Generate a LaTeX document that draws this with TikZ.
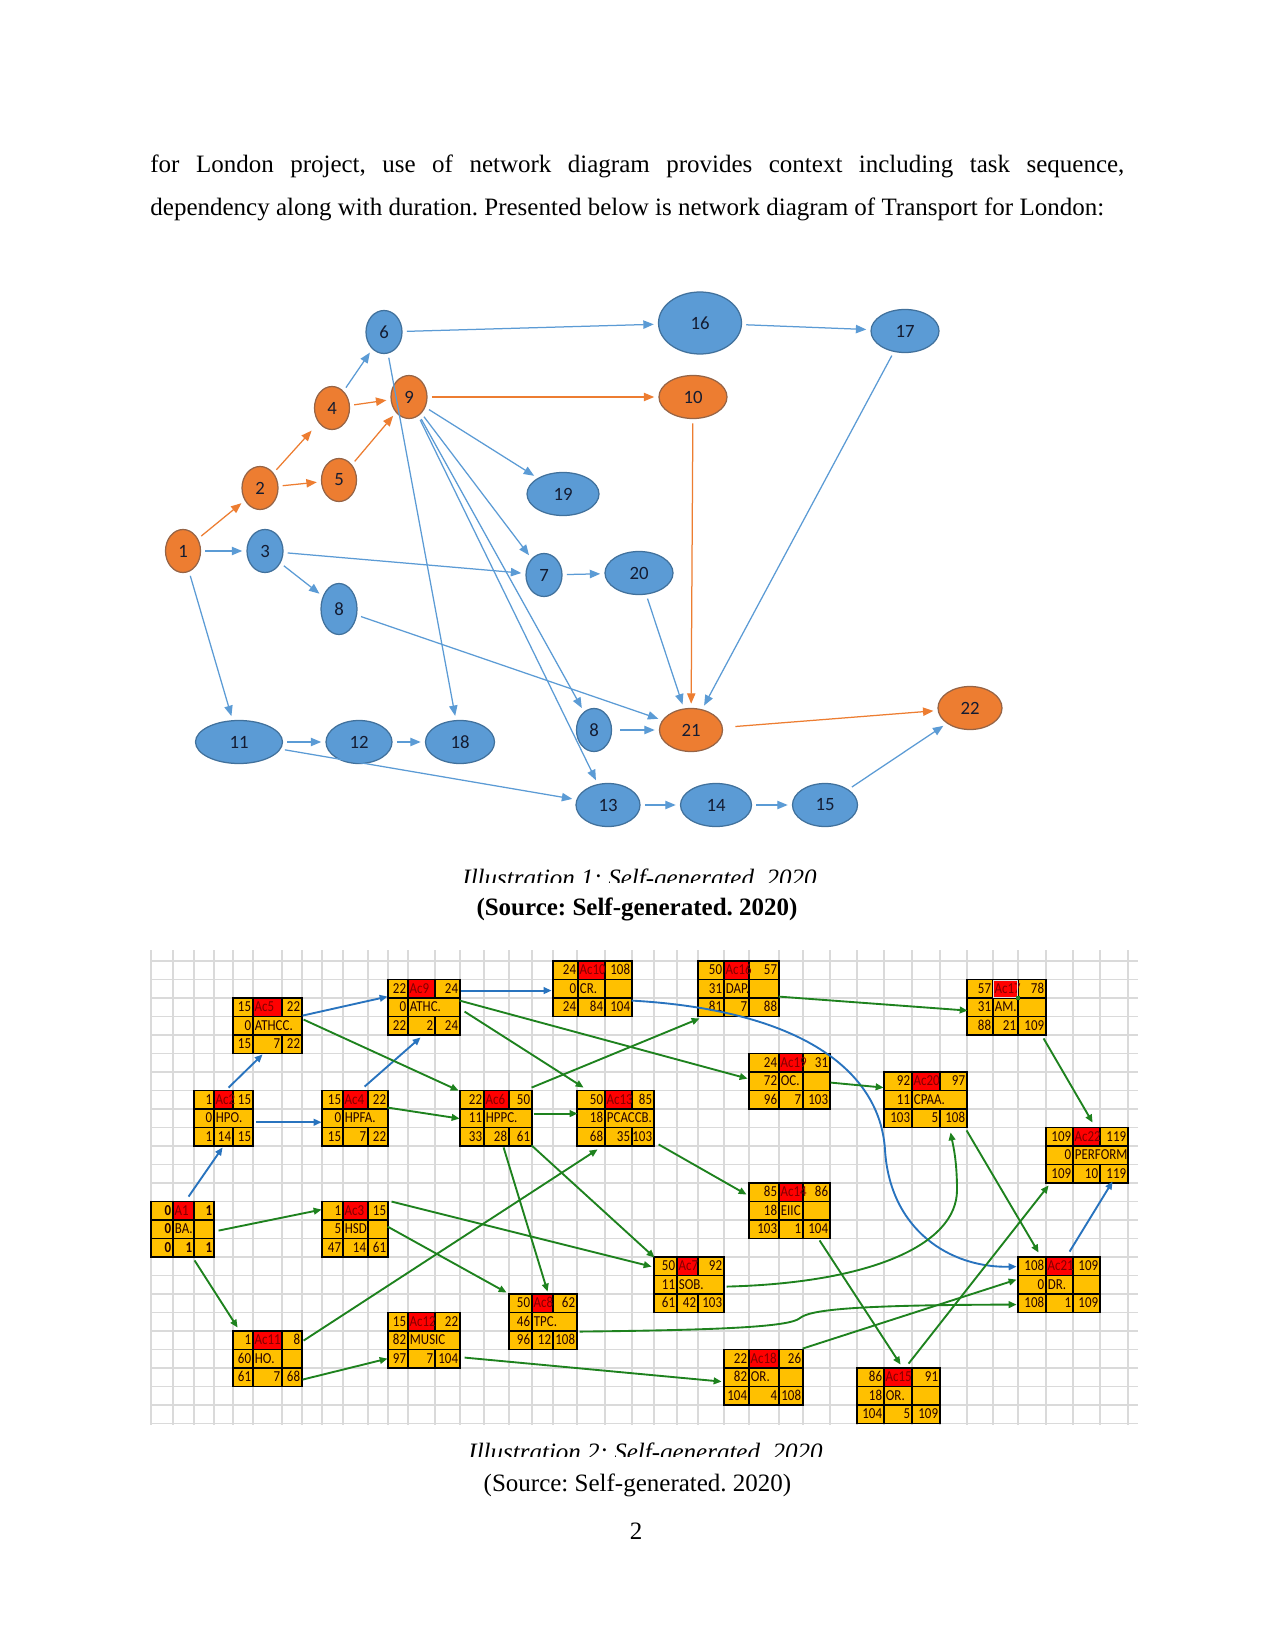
\documentclass[tikz,border=0pt]{standalone}
\usepackage{fontspec}
\setmainfont{Liberation Serif}
\newfontfamily\calib{Carlito}
\newfontfamily\boxfont{Carlito}[FakeStretch=0.85]
\usetikzlibrary{shapes.geometric,arrows.meta,calc}
\frenchspacing
\definecolor{nblue}{RGB}{91,155,213}
\definecolor{nblueb}{RGB}{65,113,156}
\definecolor{norange}{RGB}{237,125,49}
\definecolor{norangeb}{RGB}{150,100,70}
\definecolor{ntext}{RGB}{20,28,50}
\definecolor{byel}{RGB}{255,192,0}
\definecolor{bred}{RGB}{255,0,0}
\definecolor{bredtxt}{RGB}{130,0,0}
\definecolor{agreen}{RGB}{30,130,30}
\definecolor{ablue}{RGB}{40,115,190}
\definecolor{gridc}{RGB}{218,218,218}
\def\pxl{0.48pt}
\tikzset{
  bn/.style={ellipse, fill=nblue, draw=nblueb, line width=0.6pt, inner sep=0pt,
    font=\calib\fontsize{9}{10}\selectfont, text=ntext},
  on/.style={bn, fill=norange, draw=norangeb},
  ba/.style={draw=nblue, line width=0.6pt, -{Triangle[length=5pt,width=4pt]},
    shorten >=2pt, shorten <=2pt},
  oa/.style={ba, draw=norange},
  bt/.style={inner sep=0pt, font=\boxfont\fontsize{7.3}{8}\selectfont, text=black!85!red},
  boxln/.style={draw=black, line width=0.8pt},
  ga/.style={draw=agreen, line width=0.9pt, -{Triangle[length=3.8pt,width=3.2pt]}},
  bla/.style={ga, draw=ablue},
  gridln/.style={draw=gridc, line width=0.6pt},
}
\newcommand\geo[5]{\def\xa{#1}\def\xb{#2}\def\xc{#3}\def\xd{#4}\def\yt{#5}}
\newcommand\actbox[9]{%
  \pgfmathsetmacro\ym{\yt+18.5}%
  \pgfmathsetmacro\yn{\yt+37}%
  \pgfmathsetmacro\yb{\yt+55.5}%
  \fill[byel] (\xa,\yt) rectangle (\xd,\yb);
  \fill[bred] (\xb,\yt) rectangle (\xc,\ym);
  \draw[boxln] (\xa,\yt) rectangle (\xd,\yb) (\xa,\ym) -- (\xd,\ym) (\xa,\yn) -- (\xd,\yn)
    (\xb,\yt) -- (\xb,\yb) (\xc,\yt) -- (\xc,\ym) (\xc,\yn) -- (\xc,\yb);
  \if#6s\draw[boxln] (\xc,\ym) -- (\xc,\yn);\fi
  \node[bt, anchor=base east] at ({\xb-1.5},{\yt+13.5}) {#1};
  \node[bt, text=bredtxt, anchor=base west] at ({\xb+1.2},{\yt+13.5}) {#2};
  \node[bt, anchor=base east] at ({\xd-1.5},{\yt+13.5}) {#3};
  \node[bt, anchor=base east] at ({\xb-1.5},{\yt+32}) {#4};
  \node[bt, anchor=base west] at ({\xb+1.5},{\yt+32}) {#5};
  \node[bt, anchor=base east] at ({\xb-1.5},{\yt+50.5}) {#7};
  \node[bt, anchor=base east] at ({\xc-1.5},{\yt+50.5}) {#8};
  \node[bt, anchor=base east] at ({\xd-1.5},{\yt+50.5}) {#9};
  \pgfmathsetmacro\bw{(\xd-\xa)*0.48}%
  \node[inner sep=0pt, minimum width=\bw pt, minimum height=26.64pt] (#2) at ({(\xa+\xd)/2},{\yt+27.75}) {};
}
\begin{document}
\begin{tikzpicture}[x=0.48pt, y=-0.48pt]
\fill[white] (0,0) rectangle (1275,1650);
\useasboundingbox (0,0) rectangle (1275,1650);

% ---------- body text ----------
\node[anchor=base west, inner sep=0pt, font=\fontsize{12}{14}\selectfont] (l1) at (150,173)
  {\makebox[467.5pt][s]{for London project, use of network diagram provides context including task sequence,}};
\node[anchor=base west, inner sep=0pt, font=\fontsize{12}{14}\selectfont] (l2) at (150,216)
  {dependency along with duration. Presented below is network diagram of Transport for London:};

% ---------- network diagram 1 ----------
\node[on, minimum width=35*\pxl, minimum height=43*\pxl] (n1) at (183,551) {1};
\node[on, minimum width=36*\pxl, minimum height=43*\pxl] (n2) at (260,488) {2};
\node[bn, minimum width=36*\pxl, minimum height=43*\pxl] (n3) at (265,551) {3};
\node[on, minimum width=35*\pxl, minimum height=43*\pxl] (n4) at (332,408) {4};
\node[on, minimum width=35*\pxl, minimum height=43*\pxl] (n5) at (339,480) {5};
\node[bn, minimum width=36*\pxl, minimum height=43*\pxl] (n6) at (384,332) {6};
\node[on, minimum width=36*\pxl, minimum height=43*\pxl] (n9) at (409,397) {9};
\node[on, minimum width=68*\pxl, minimum height=43*\pxl] (n10) at (693,397) {10};
\node[bn, minimum width=83*\pxl, minimum height=62*\pxl] (n16) at (700,323) {16};
\node[bn, minimum width=68*\pxl, minimum height=43*\pxl] (n17) at (905,331) {17};
\node[bn, minimum width=72*\pxl, minimum height=43*\pxl] (n19) at (563,494) {19};
\node[bn, minimum width=36*\pxl, minimum height=43*\pxl] (n7) at (544,575) {7};
\node[bn, minimum width=68*\pxl, minimum height=43*\pxl] (n20) at (639,573) {20};
\node[bn, minimum width=36*\pxl, minimum height=51*\pxl] (n8a) at (339,609) {8};
\node[bn, minimum width=35*\pxl, minimum height=43*\pxl] (n8b) at (594,730) {8};
\node[on, minimum width=63*\pxl, minimum height=43*\pxl] (n21) at (691,730) {21};
\node[on, minimum width=64*\pxl, minimum height=43*\pxl] (n22) at (970,708) {22};
\node[bn, minimum width=87*\pxl, minimum height=43*\pxl] (n11) at (239,742) {11};
\node[bn, minimum width=66*\pxl, minimum height=43*\pxl] (n12) at (359,742) {12};
\node[bn, minimum width=69*\pxl, minimum height=43*\pxl] (n18) at (460,742) {18};
\node[bn, minimum width=64*\pxl, minimum height=43*\pxl] (n13) at (608,805) {13};
\node[bn, minimum width=71*\pxl, minimum height=43*\pxl] (n14) at (716,805) {14};
\node[bn, minimum width=65*\pxl, minimum height=43*\pxl] (n15) at (825,805) {15};

\draw[oa] (n1) -- (n2);
\draw[oa, shorten >=5pt] (n2) -- (n4);
\draw[oa] (n2) -- (n5);
\draw[oa] (n4) -- (n9);
\draw[oa] (n5) -- (n9);
\draw[oa] (n9) -- (n10);
\draw[oa] (n10) -- (n21);
\draw[oa, shorten <=6pt] (n21) -- (n22);
\draw[ba] (n1) -- (n3);
\draw[ba] (n1) -- (n11);
\draw[ba] (n4) -- (n6);
\draw[ba] (n6) -- (n16);
\draw[ba] (n6) -- (n18);
\draw[ba] (n16) -- (n17);
\draw[ba] (n9) -- (n19);
\draw[ba] (n9) -- (n7);
\draw[ba] (n9) -- (n8b);
\draw[ba] (n9) -- (n13);
\draw[ba] (n3) -- (n7);
\draw[ba] (n3) -- (n8a);
\draw[ba] (n7) -- (n20);
\draw[ba] (n8a) -- (n21);
\draw[ba, shorten <=4pt] (n8b) -- (n21);
\draw[ba] (n20) -- (n21);
\draw[ba] (n17) -- (n21);
\draw[ba] (n11) -- (n12);
\draw[ba] (n12) -- (n18);
\draw[ba] (n11) -- (n13);
\draw[ba] (n13) -- (n14);
\draw[ba] (n14) -- (n15);
\draw[ba] (n15) -- (n22);

% ---------- captions 1 ----------
\begin{scope}
\clip (0,850) rectangle (1275,882);
\node[anchor=base west, inner sep=0pt, font=\fontsize{12}{14}\selectfont\itshape] (cap1) at (462,886.5) {Illustration 1: Self-generated. 2020};
\end{scope}
\node[anchor=base, inner sep=0pt, font=\fontsize{12}{14}\selectfont\bfseries] (src1) at (637,915) {(Source: Self-generated. 2020)};

% ---------- grid ----------
\foreach \x in {151,173,194,214,233,253,282,302,322,343,368,388,408,435,460,484,509,532,553,577,605,632,654,677,698,724,749,779,803,830,857,884,912,940,967,993,1018,1046,1073,1100,1128}
  \draw[gridln] (\x,950) -- (\x,1425);
\foreach \k in {0,...,25}
  \draw[gridln] (151,{961+18.5*\k}) -- (1138,{961+18.5*\k});

% ---------- activity boxes ----------
\geo{553}{578}{605}{632}{961}\actbox{24}{Ac10}{108}{0}{CR.}{s}{24}{84}{104}
\geo{698}{724}{749}{779}{961}\actbox{50}{Ac16}{57}{31}{DAP.}{s}{81}{7}{88}
\geo{388}{408}{435}{460}{979.5}\actbox{22}{Ac9}{24}{0}{ATHC.}{m}{22}{2}{24}
\geo{967}{993}{1018}{1046}{979.5}\actbox{57}{Ac17}{78}{31}{AM.}{s}{88}{21}{109}
\draw[white!75!gray, line width=0.8pt] (993.5,980.5) rectangle (1017.5,997.5);
\fill[agreen] (1016,995.5) rectangle (1020,999.5);
\geo{233}{253}{282}{302}{998}\actbox{15}{Ac5}{22}{0}{ATHCC.}{m}{15}{7}{22}
\geo{749}{779}{803}{830}{1053.5}\actbox{24}{Ac19}{31}{72}{OC.}{s}{96}{7}{103}
\geo{884}{912}{940}{967}{1072}\actbox{92}{Ac20}{97}{11}{CPAA.}{m}{103}{5}{108}
\geo{194}{214}{233}{253}{1090.5}\actbox{1}{Ac2}{15}{0}{HPO.}{m}{1}{14}{15}
\geo{322}{343}{368}{388}{1090.5}\actbox{15}{Ac4}{22}{0}{HPFA.}{m}{15}{7}{22}
\geo{460}{484}{509}{532}{1090.5}\actbox{22}{Ac6}{50}{11}{HPPC.}{m}{33}{28}{61}
\geo{577}{605}{632}{654}{1090.5}\actbox{50}{Ac13}{85}{18}{PCACCB.}{m}{68}{35}{103}
\geo{1046}{1073}{1100}{1128}{1127.5}\actbox{109}{Ac22}{119}{0}{PERFORM}{m}{109}{10}{119}
\geo{749}{779}{803}{830}{1183}\actbox{85}{Ac14}{86}{18}{EIIC}{s}{103}{1}{104}
\geo{151}{173}{194}{214}{1201.5}\actbox{\bfseries 0}{A1}{\bfseries 1}{\bfseries 0}{BA.}{s}{\bfseries 0}{\bfseries 1}{\bfseries 1}
\geo{322}{343}{368}{388}{1201.5}\actbox{1}{Ac3}{15}{5}{HSD.}{s}{47}{14}{61}
\geo{654}{677}{698}{724}{1257}\actbox{50}{Ac7}{92}{11}{SOB.}{m}{61}{42}{103}
\geo{1018}{1046}{1073}{1100}{1257}\actbox{108}{Ac21}{109}{0}{DR.}{s}{108}{1}{109}
\geo{509}{532}{553}{577}{1294}\actbox{50}{Ac8}{62}{46}{TPC.}{m}{96}{12}{108}
\geo{388}{408}{435}{460}{1312.5}\actbox{15}{Ac12}{22}{82}{MUSIC}{m}{97}{7}{104}
\geo{233}{253}{282}{302}{1331}\actbox{1}{Ac11}{8}{60}{HO.}{s}{61}{7}{68}
\geo{724}{749}{779}{803}{1349.5}\actbox{22}{Ac18}{26}{82}{OR.}{s}{104}{4}{108}
\geo{857}{884}{912}{940}{1368}\actbox{86}{Ac15}{91}{18}{OR.}{s}{104}{5}{109}

% ---------- connectors (blue) ----------
\draw[bla] ($(A1.north west)+(38,-4.5)$) -- ($(Ac2.south west)+(29,1)$);
\draw[bla] ($(Ac2.north west)+(35,-2.5)$) -- ($(Ac5.south west)+(30,0.5)$);
\draw[bla] ($(Ac2.east)+(3,4)$) -- ($(Ac4.west)+(0,4)$);
\draw[bla] ($(Ac4.north west)+(43,-3.5)$) -- ($(Ac9.south west)+(33,2)$);
\draw[bla] ($(Ac5.north west)+(70,18)$) -- ($(Ac9.north west)+(0,17.5)$);
\draw[bla] ($(Ac9.north west)+(73,11.5)$) -- ($(Ac10.north west)+(-1,30)$);
\draw[bla] ($(Ac10.north west)+(79,40)$) .. controls (800,1010) and (880,1070) .. (885,1150)
  .. controls (890,1230) and (950,1268) .. ($(Ac21.north west)+(-1,10)$);
\draw[bla] ($(Ac21.north west)+(52,-5)$) -- ($(Ac22.south west)+(67,-2)$);

% ---------- connectors (green) ----------
\draw[ga] ($(A1.north west)+(68,29.5)$) -- ($(Ac3.north west)+(0,8.5)$);
\draw[ga] ($(A1.south west)+(44,3)$) -- ($(Ac11.north west)+(5,-3)$);
\draw[ga] ($(Ac11.north west)+(71,10)$) -- ($(Ac13.south west)+(21,3)$);
\draw[ga] ($(Ac11.north west)+(70,49)$) -- ($(Ac12.north west)+(0,46.5)$);
\draw[ga] ($(Ac12.north west)+(77,45.5)$) -- ($(Ac18.north west)+(-2,32.5)$);
\draw[ga] ($(Ac3.north west)+(70,0.5)$) -- ($(Ac7.north west)+(-2,10)$);
\draw[ga] ($(Ac3.north west)+(66,25.5)$) -- ($(Ac8.north west)+(-2,-1)$);
\draw[ga] ($(Ac5.north west)+(71,22)$) -- ($(Ac6.north west)+(-1,0.5)$);
\draw[ga] ($(Ac4.north west)+(66,17.5)$) -- ($(Ac6.north west)+(0,28.5)$);
\draw[ga] ($(Ac9.north west)+(77,32.5)$) -- ($(Ac13.north west)+(7,-2.5)$);
\draw[ga] ($(Ac9.north west)+(72,21.5)$) -- ($(Ac19.north west)+(-1,25.5)$);
\draw[ga] ($(Ac6.north west)+(72,-2.5)$) -- ($(Ac16.south west)+(2,1.5)$);
\draw[ga] ($(Ac6.north west)+(74,23.5)$) -- ($(Ac13.north west)+(1,23.5)$);
\draw[ga] ($(Ac6.south west)+(44,1)$) -- ($(Ac8.north west)+(39,-2)$);
\draw[ga] ($(Ac6.south west)+(72,-1)$) -- ($(Ac7.north west)+(1,1)$);
\draw[ga] ($(Ac13.south west)+(82,-2)$) -- ($(Ac14.north west)+(-2,12)$);
\draw[ga] ($(Ac16.north west)+(81,36)$) -- ($(Ac17.north west)+(1,31.5)$);
\draw[ga] ($(Ac19.north west)+(82,29.5)$) -- ($(Ac20.north west)+(0,16)$);
\draw[ga] ($(Ac17.south west)+(77,3)$) -- ($(Ac22.north west)+(47,-4.5)$);
\draw[ga] ($(Ac20.south west)+(83,2.5)$) -- ($(Ac21.north west)+(21,-4)$);
\draw[ga] ($(Ac7.north west)+(73,30)$) .. controls (870,1283) and (957,1245) .. (957,1190)
  .. controls (957,1160) and (953,1145) .. ($(Ac20.south west)+(67,4.5)$);
\draw[ga] ($(Ac8.north west)+(71,38)$) .. controls (720,1330) and (790,1327) .. (800,1318)
  .. controls (810,1310) and (850,1305) .. ($(Ac21.north west)+(-1,48)$);
\draw[ga] ($(Ac18.north west)+(79,-0.5)$) -- ($(Ac21.north west)+(-1,23)$);
\draw[ga] ($(Ac14.south west)+(71,1.5)$) -- ($(Ac15.north west)+(44,-3)$);
\draw[ga] ($(Ac15.north west)+(52,-4)$) -- ($(Ac22.south west)+(3,2)$);

% ---------- captions 2 ----------
\begin{scope}
\clip (0,1420) rectangle (1275,1456);
\node[anchor=base west, inner sep=0pt, font=\fontsize{12}{14}\selectfont\itshape] (cap2) at (468,1460.5) {Illustration 2: Self-generated. 2020};
\end{scope}
\node[anchor=base, inner sep=0pt, font=\fontsize{12}{14}\selectfont] (src2) at (637.5,1491) {(Source: Self-generated. 2020)};
\node[anchor=base, inner sep=0pt, font=\fontsize{12}{14}\selectfont] (pg) at (636,1539) {2};
\end{tikzpicture}
\end{document}
